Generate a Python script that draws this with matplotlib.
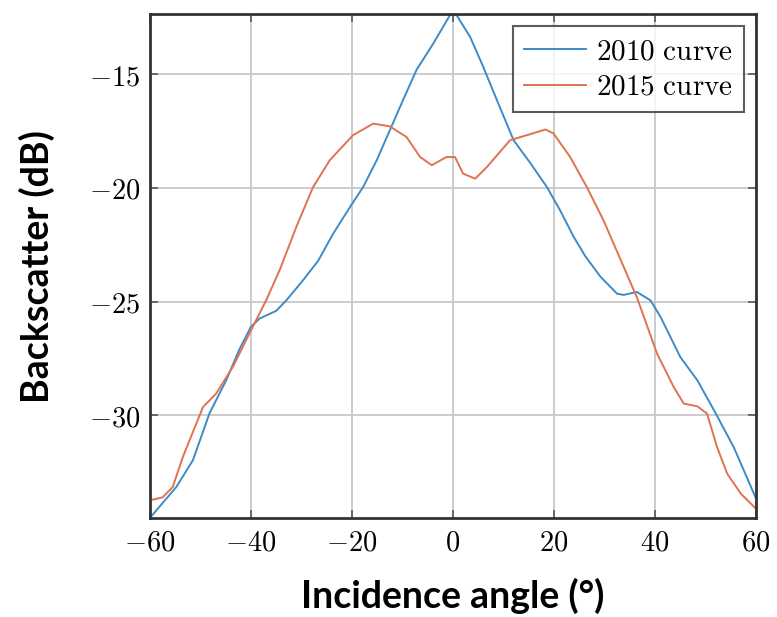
import matplotlib
matplotlib.use("Agg")
import matplotlib.pyplot as plt
from matplotlib.ticker import FixedLocator, FuncFormatter

# curva 2010
ang_2010 = [-60, -54.8, -51.5, -48.2, -44.9, -42.3, -40, -38.3, -35, -33, -29.7, -26.7,
            -23.7, -20.4, -17.8, -15.1, -12.5, -9.9, -7.2, -3.9, -0.6, 0.7, 3.4, 6, 8.7,
            12, 15.3, 18.6, 21.2, 23.9, 26.2, 29.2, 32.5, 33.8, 36.4, 39.1, 41.1, 45,
            48.4, 51.7, 55.6, 60]
bs_2010 = [-34.5, -33.15, -31.97, -29.9, -28.45, -27.1, -26.1, -25.74, -25.4, -24.94,
           -24.06, -23.2, -22.0, -20.84, -19.96, -18.78, -17.46, -16.14, -14.8, -13.65,
           -12.4, -12.4, -13.36, -14.68, -16.14, -17.9, -18.9, -19.96, -20.98, -22.15,
           -23.0, -23.9, -24.65, -24.7, -24.57, -24.94, -25.67, -27.43, -28.46, -29.78,
           -31.4, -33.65]

# curva 2015
ang_2015 = [-60, -57.5, -55.5, -53.5, -49.5, -46.9, -43.6, -40, -37, -34.3, -31, -27.7,
            -24.4, -19.8, -15.8, -12.5, -9.2, -6.5, -4.2, -1.3, 0.4, 2.0, 4.4, 6.7, 11.3,
            14.6, 18.3, 19.9, 23.2, 26.5, 29.8, 33.8, 36.4, 40.4, 43.7, 45.7, 48.4, 50.3,
            52.3, 54.3, 57, 60]
bs_2015 = [-33.73, -33.6, -33.15, -31.83, -29.63, -29.04, -27.87, -26.26, -24.94, -23.6,
           -21.7, -19.96, -18.78, -17.68, -17.17, -17.29, -17.76, -18.64, -19.0, -18.64,
           -18.64, -19.37, -19.59, -19.08, -17.9, -17.68, -17.43, -17.6, -18.64, -19.96,
           -21.42, -23.47, -24.8, -27.28, -28.75, -29.48, -29.6, -29.92, -31.4, -32.56,
           -33.44, -34.1]

x_ticks = [-60, -40, -20, 0, 20, 40, 60]
y_ticks = [-30, -25, -20, -15]

plt.rcParams['mathtext.fontset'] = 'cm'

fig = plt.figure(figsize=(7.77, 6.17), dpi=100)
ax = fig.add_axes([0.193, 0.16, 0.78, 0.817])

ax.plot(ang_2010, bs_2010, color='#3d8bc9', lw=1.4, label=r'$\mathrm{2010\ curve}$')
ax.plot(ang_2015, bs_2015, color='#e0734f', lw=1.4, label=r'$\mathrm{2015\ curve}$')

ax.set_xlim(-60, 60)
ax.set_ylim(-34.52, -12.36)

ax.xaxis.set_major_locator(FixedLocator(x_ticks))
ax.yaxis.set_major_locator(FixedLocator(y_ticks))
fmt = FuncFormatter(lambda v, p: r'$%d$' % v)
ax.xaxis.set_major_formatter(fmt)
ax.yaxis.set_major_formatter(fmt)
ax.tick_params(direction='in', length=6, width=1.2, color='#555555',
               top=True, right=True, labelsize=20.5, pad=7)

ax.grid(True, color='#c8c8c8', lw=1.3)
ax.set_axisbelow(True)
for s in ax.spines.values():
    s.set_linewidth(2)
    s.set_color('#333333')

lbl = dict(family=['Lato', 'DejaVu Sans'], weight='bold', fontsize=27)
ax.set_xlabel('Incidence angle (°)', labelpad=16, **lbl)
ax.set_ylabel('Backscatter (dB)', labelpad=24, **lbl)

leg = ax.legend(loc='upper right', fontsize=21, handlelength=2.1, frameon=True,
                fancybox=False, edgecolor='#333333', borderpad=0.4,
                labelspacing=0.25, handletextpad=0.35, borderaxespad=0.4)
leg.get_frame().set_linewidth(1.5)

fig.savefig('out.png', dpi=100)
plt.close(fig)
